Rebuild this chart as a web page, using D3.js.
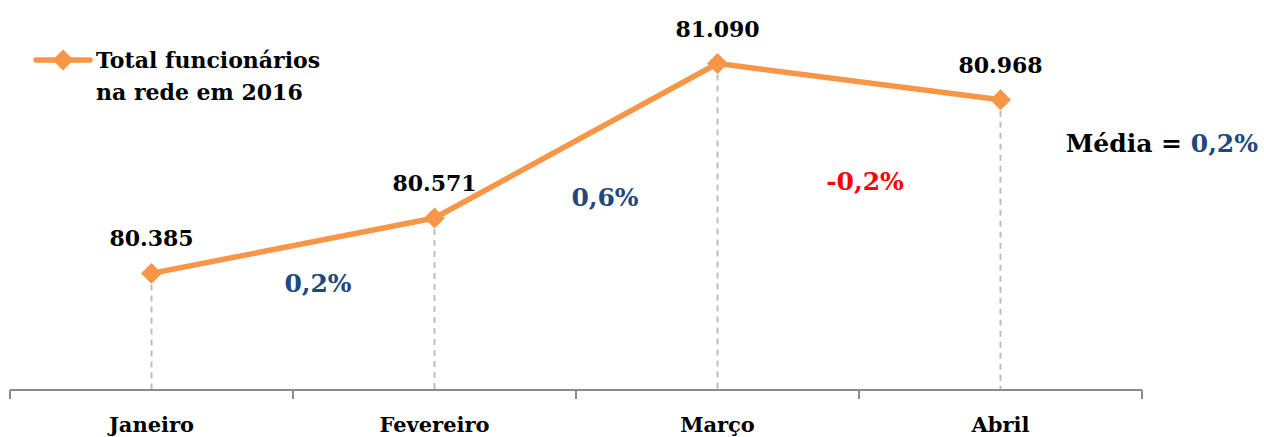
<!DOCTYPE html>
<html>
<head>
<meta charset="utf-8">
<script src="https://cdn.jsdelivr.net/npm/d3@7"></script>
<style>
  body { margin: 0; background: #fff; }
  text { font-family: "DejaVu Serif", serif; font-weight: bold; }
</style>
</head>
<body>
<div id="chart"></div>
<script>
// data
const months = ["Janeiro", "Fevereiro", "Março", "Abril"];
const funcionarios = [80385, 80571, 81090, 80968];
const valueLabels = ["80.385", "80.571", "81.090", "80.968"];
const changeLabels = ["0,2%", "0,6%", "-0,2%"];
const changeSigns = [1, 1, -1];
const mediaLabel = "0,2%";

const width = 1264;
const height = 437;
const orange = "#F79646";
const blue = "#1F497D";

const svg = d3.select("#chart")
    .append("svg")
    .attr("width", width)
    .attr("height", height);

const x = d3.scaleBand()
    .domain(months)
    .range([10, 1142]);

const y = d3.scaleLinear()
    .domain([80000, 81300])
    .range([388, 1]);

const cx = d => x(d) + x.bandwidth() / 2;

// drop lines
svg.selectAll("line.drop")
    .data(months)
    .enter()
    .append("line")
    .attr("class", "drop")
    .attr("x1", d => cx(d))
    .attr("x2", d => cx(d))
    .attr("y1", (d, i) => y(funcionarios[i]))
    .attr("y2", 390)
    .attr("stroke", "#bfbfbf")
    .attr("stroke-width", 2)
    .attr("stroke-dasharray", "6,5");

// x axis
const axis = svg.append("g")
    .attr("transform", "translate(0,390)")
    .call(d3.axisBottom(x).tickSize(0).tickPadding(0));
axis.select(".domain").remove();
axis.selectAll("text").remove();

axis.append("line")
    .attr("x1", 10).attr("x2", 1142)
    .attr("stroke", "#8c8c8c").attr("stroke-width", 2);

const bounds = months.map(d => x(d)).concat([x.range()[1]]);
axis.selectAll("line.tk")
    .data(bounds)
    .enter()
    .append("line")
    .attr("class", "tk")
    .attr("x1", d => d).attr("x2", d => d)
    .attr("y1", 0).attr("y2", 9)
    .attr("stroke", "#8c8c8c").attr("stroke-width", 2);

svg.selectAll("text.month")
    .data(months)
    .enter()
    .append("text")
    .attr("class", "month")
    .attr("x", d => cx(d))
    .attr("y", 432)
    .attr("text-anchor", "middle")
    .attr("font-size", 21)
    .attr("fill", "#000")
    .text(d => d);

// line
const line = d3.line()
    .x((d, i) => cx(months[i]))
    .y(d => y(d));

svg.append("path")
    .datum(funcionarios)
    .attr("d", line)
    .attr("fill", "none")
    .attr("stroke", orange)
    .attr("stroke-width", 5.5)
    .attr("stroke-linejoin", "round");

const diamond = d3.symbol().type(d3.symbolDiamond2).size(280);

svg.selectAll("path.pt")
    .data(funcionarios)
    .enter()
    .append("path")
    .attr("class", "pt")
    .attr("d", diamond)
    .attr("transform", (d, i) => `translate(${cx(months[i])},${y(d)})`)
    .attr("fill", orange);

// value labels
svg.selectAll("text.val")
    .data(funcionarios)
    .enter()
    .append("text")
    .attr("class", "val")
    .attr("x", (d, i) => cx(months[i]))
    .attr("y", d => y(d) - 27)
    .attr("text-anchor", "middle")
    .attr("font-size", 22)
    .attr("fill", "#000")
    .text((d, i) => valueLabels[i]);

// change labels (placed between months)
const changePos = [[318, 292], [605, 206], [865, 190]];
svg.selectAll("text.chg")
    .data(changeLabels)
    .enter()
    .append("text")
    .attr("class", "chg")
    .attr("x", (d, i) => changePos[i][0])
    .attr("y", (d, i) => changePos[i][1])
    .attr("text-anchor", "middle")
    .attr("font-size", 25)
    .attr("fill", (d, i) => changeSigns[i] < 0 ? "#FF0000" : blue)
    .text(d => d);

// média
const media = svg.append("text")
    .attr("x", 1258)
    .attr("y", 152)
    .attr("text-anchor", "end")
    .attr("font-size", 25)
    .attr("fill", "#000");
media.append("tspan").text("Média = ");
media.append("tspan").attr("fill", blue).text(mediaLabel);

// legend
const legend = svg.append("g");
legend.append("line")
    .attr("x1", 36).attr("x2", 90)
    .attr("y1", 60).attr("y2", 60)
    .attr("stroke", orange).attr("stroke-width", 5.5)
    .attr("stroke-linecap", "round");
legend.append("path")
    .attr("d", diamond)
    .attr("transform", "translate(63,60)")
    .attr("fill", orange);
legend.append("text")
    .attr("x", 96).attr("y", 68)
    .attr("font-size", 22)
    .attr("fill", "#000")
    .text("Total funcionários");
legend.append("text")
    .attr("x", 96).attr("y", 100)
    .attr("font-size", 22)
    .attr("fill", "#000")
    .text("na rede em 2016");
</script>
</body>
</html>
